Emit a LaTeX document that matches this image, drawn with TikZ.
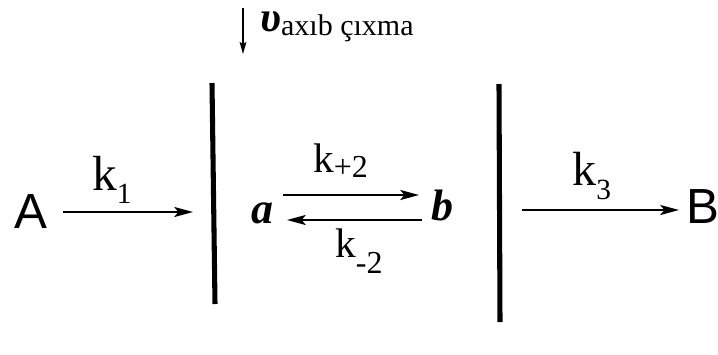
\documentclass[tikz,border=0pt]{standalone}
\usepackage{fontspec}
\setmainfont{Liberation Serif}
\newfontfamily\sansfnt{Liberation Sans}
\usetikzlibrary{arrows.meta}
\begin{document}
\begin{tikzpicture}[x=0.75pt,y=-0.75pt,
  txt/.style={inner sep=0pt, anchor=base west},
  species/.style={txt, font=\sansfnt\fontsize{37}{37}\selectfont},
  inter/.style={txt, font=\bfseries\itshape\fontsize{33}{33}\selectfont},
  rxn/.style={line width=1.6pt, -{Stealth[length=14pt,width=7.5pt,inset=3pt]}},
  flux/.style={line width=1.2pt, -{Stealth[length=9pt,width=5pt,inset=1.5pt]}},
  wall/.style={line width=3.8pt}]
\useasboundingbox (0,0) rectangle (718,354);
% walls
\coordinate (w1t) at (212,83); \coordinate (w1b) at (215,304);
\coordinate (w2t) at (499,84); \coordinate (w2b) at (500,322);
\draw[wall] (w1t) -- (w1b);
\draw[wall] (w2t) -- (w2b);
% species
\node[species] (A) at (14,228) {A};
\node[species] (B) at (686,223) {B};
\node[inter] (a) at (251,223) {a};
\node[inter] (b) at (431,220) {b};
% rate constants
\node[txt] (k1) at (92,190) {\fontsize{37}{37}\selectfont k\raisebox{-10pt}{\fontsize{22}{22}\selectfont 1}};
\node[txt] (k3) at (572,185) {\fontsize{36}{36}\selectfont k\raisebox{-11pt}{\fontsize{22}{22}\selectfont 3}};
\node[txt] (kp2) at (313,172) {\fontsize{31}{31}\selectfont k\raisebox{-4pt}{\fontsize{24}{24}\selectfont +2}};
\node[txt] (km2) at (335,257) {\fontsize{31}{31}\selectfont k\raisebox{-12pt}{\fontsize{24}{24}\selectfont -2}};
% flux label
\node[txt] (v) at (260,31) {{\bfseries\itshape\fontsize{32}{32}\selectfont υ}\raisebox{-3pt}{\fontsize{22.5}{22.5}\selectfont axıb çıxma}};
% arrow endpoints
\coordinate (s1) at (63,212); \coordinate (e1) at (193,212);
\coordinate (s2) at (283,195); \coordinate (e2) at (419,195);
\coordinate (s3) at (422,220); \coordinate (e3) at (287,220);
\coordinate (s4) at (522,210); \coordinate (e4) at (679,210);
\coordinate (s5) at (243,8); \coordinate (e5) at (243,54);
\draw[rxn] (s1) -- (e1);
\draw[rxn] (s2) -- (e2);
\draw[rxn] (s3) -- (e3);
\draw[rxn] (s4) -- (e4);
\draw[flux] (s5) -- (e5);
\end{tikzpicture}
\end{document}
